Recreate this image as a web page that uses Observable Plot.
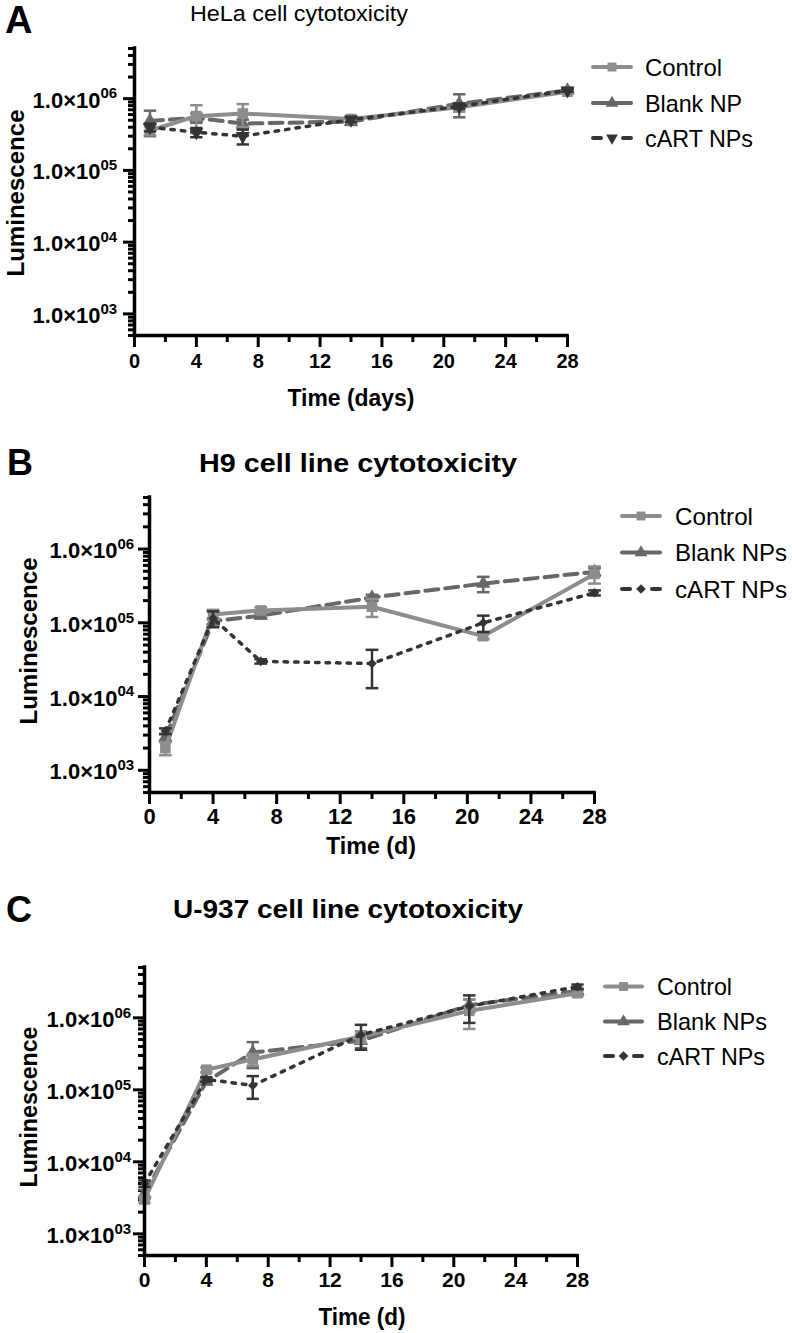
<!DOCTYPE html>
<html><head><meta charset="utf-8">
<script src="https://cdn.jsdelivr.net/npm/d3@7"></script>
<script src="https://cdn.jsdelivr.net/npm/@observablehq/plot@0.6"></script>
<style>
body{margin:0;background:#fff;}
#root{position:relative;width:792px;height:1333px;overflow:hidden;background:#fff;font-family:"Liberation Sans",Arial,Helvetica,sans-serif;}
#root svg{position:absolute;left:0;}
</style></head><body><div id="root"></div>
<script>
// ---------- data ----------
const namesA = ["Control", "Blank NP", "cART NPs"];
const namesBC = ["Control", "Blank NPs", "cART NPs"];

const daysA = [1, 4, 7, 14, 21, 28];
const daysB = [1, 4, 7, 14, 21, 28];
const daysC = [0, 4, 7, 14, 21, 28];

// Panel A – HeLa
const controlA = [3.6e5, 5.7e5, 6.2e5, 5.2e5, 7.6e5, 1.25e6];
const controlAErr = [0.5e5, 2.4e5, 2.2e5, 0.5e5, 1.0e5, 0.8e5];
const blankA = [4.9e5, 5.4e5, 4.5e5, 4.8e5, 8.5e5, 1.3e6];
const blankAErr = [1.9e5, 0.8e5, 0.6e5, 0.5e5, 3.0e5, 0.8e5];
const cartA = [4.0e5, 3.4e5, 3.0e5, 5.1e5, 7.8e5, 1.3e6];
const cartAErr = [0.5e5, 0.5e5, 0.7e5, 0.4e5, 0.6e5, 0.5e5];

// Panel B – H9
const controlB = [2.0e3, 1.3e5, 1.47e5, 1.65e5, 6.6e4, 4.6e5];
const controlBErr = [0.4e3, 0.2e5, 0.15e5, 0.45e5, 0.6e4, 1.2e5];
const blankB = [2.8e3, 1.05e5, 1.25e5, 2.2e5, 3.4e5, 4.9e5];
const blankBErr = [0.3e3, 0.1e5, 0.1e5, 0.2e5, 0.8e5, 0.6e5];
const cartB = [3.4e3, 1.15e5, 3.0e4, 2.8e4, 1.0e5, 2.55e5];
const cartBErr = [0.3e3, 0.28e5, 0.2e4, 1.5e4, 0.25e5, 0.2e5];

// Panel C – U-937
const controlC = [3.0e3, 1.9e5, 2.65e5, 5.5e5, 1.25e6, 2.2e6];
const controlCErr = [0.3e3, 0.15e5, 0.5e5, 1.0e5, 5.5e5, 0.2e6];
const blankC = [3.6e3, 1.3e5, 3.3e5, 4.8e5, 1.5e6, 2.35e6];
const blankCErr = [0.5e3, 0.1e5, 1.3e5, 1.0e5, 0.3e6, 0.2e6];
const cartC = [5.0e3, 1.4e5, 1.15e5, 5.8e5, 1.45e6, 2.7e6];
const cartCErr = [0.5e3, 0.1e5, 0.4e5, 2.2e5, 0.6e6, 0.2e6];

// ticks
const xMajorTicks = [0, 4, 8, 12, 16, 20, 24, 28];
const xMinorTicks = [2, 6, 10, 14, 18, 22, 26];
const yMajorTicks = [1e3, 1e4, 1e5, 1e6];
const yTickMain = ["1.0×10", "1.0×10", "1.0×10", "1.0×10"];
const yTickExp = ["03", "04", "05", "06"];
const yMinorTicks = [5e2, 6e2, 7e2, 8e2, 9e2,
  2e3, 3e3, 4e3, 5e3, 6e3, 7e3, 8e3, 9e3,
  2e4, 3e4, 4e4, 5e4, 6e4, 7e4, 8e4, 9e4,
  2e5, 3e5, 4e5, 5e5, 6e5, 7e5, 8e5, 9e5,
  2e6, 3e6, 4e6, 5e6];

const titles = ["HeLa cell cytotoxicity", "H9 cell line cytotoxicity", "U-937 cell line cytotoxicity"];
const xLabels = ["Time (days)", "Time (d)", "Time (d)"];
const yLabel = "Luminescence";
const letters = ["A", "B", "C"];

// ---------- styles ----------
const triDown = {
  draw(context, size) {
    const y = -Math.sqrt(size / (Math.sqrt(3) * 3));
    context.moveTo(0, -y * 2);
    context.lineTo(-Math.sqrt(3) * y, y);
    context.lineTo(Math.sqrt(3) * y, y);
    context.closePath();
  }
};
const colControl = "#8d8d8d", colBlank = "#676767", colCart = "#343434";
function seriesStyles(cartSymbol, cartR) {
  return [
    {color: colControl, dash: null, width: 4, symbol: "square", r: 6},
    {color: colBlank, dash: "13,7", width: 4, symbol: "triangle", r: 5.3},
    {color: colCart, dash: "3.5,7", width: 3.5, symbol: cartSymbol, r: cartR}
  ];
}

const panels = [
  {top: 0, height: 420, mt: 48, mb: 85, ml: 134, mr: 225, days: daysA, names: namesA,
   vals: [controlA, blankA, cartA], errs: [controlAErr, blankAErr, cartAErr],
   styles: seriesStyles(triDown, 5.2), xPad: 6, xFont: 20, yDx: -34},
  {top: 440, height: 440, mt: 57, mb: 88, ml: 149, mr: 198, days: daysB, names: namesBC,
   vals: [controlB, blankB, cartB], errs: [controlBErr, blankBErr, cartBErr],
   styles: seriesStyles("diamond2", 4.3), xPad: 4, xFont: 22, yDx: -32},
  {top: 880, height: 453, mt: 87, mb: 78, ml: 144, mr: 215, days: daysC, names: namesBC,
   vals: [controlC, blankC, cartC], errs: [controlCErr, blankCErr, cartCErr],
   styles: seriesStyles("diamond2", 4.3), xPad: 5, xFont: 21, yDx: -30}
];

const root = document.getElementById("root");
const cap = 0.4;
const drawOrder = [1, 0, 2];

panels.forEach((p) => {
  const marks = [];
  drawOrder.forEach((si) => {
    const st = p.styles[si];
    const rows = p.days.map((d, i) => ({day: d, v: p.vals[si][i], e: p.errs[si][i]}));
    marks.push(
      Plot.ruleX(rows, {x: "day", y1: (d) => d.v - d.e, y2: (d) => d.v + d.e, stroke: st.color, strokeWidth: 2.5}),
      Plot.link(rows, {x1: (d) => d.day - cap, x2: (d) => d.day + cap, y1: (d) => d.v + d.e, y2: (d) => d.v + d.e, stroke: st.color, strokeWidth: 2.5}),
      Plot.link(rows, {x1: (d) => d.day - cap, x2: (d) => d.day + cap, y1: (d) => d.v - d.e, y2: (d) => d.v - d.e, stroke: st.color, strokeWidth: 2.5}),
      Plot.line(rows, {x: "day", y: "v", stroke: st.color, strokeWidth: st.width, strokeDasharray: st.dash, strokeLinejoin: "round"}),
      Plot.dot(rows, {x: "day", y: "v", symbol: st.symbol, r: st.r, fill: st.color, stroke: "none"})
    );
  });
  const chart = Plot.plot({
    width: 792, height: p.height,
    marginTop: p.mt, marginBottom: p.mb, marginLeft: p.ml, marginRight: p.mr,
    x: {domain: [0, 28]},
    y: {type: "log", domain: [500, 5e6]},
    style: {fontFamily: '"Liberation Sans", Arial, Helvetica, sans-serif', fontWeight: "bold", color: "black", background: "transparent", overflow: "visible"},
    marks: [
      Plot.axisX(xMinorTicks, {tickSize: 7, strokeWidth: 3, tickFormat: () => "", label: null}),
      Plot.axisX(xMajorTicks, {tickSize: 12, strokeWidth: 3, tickPadding: p.xPad, fontSize: p.xFont, fontWeight: "bold", label: null}),
      Plot.axisY(yMinorTicks, {tickSize: 6, strokeWidth: 3, tickFormat: () => "", label: null}),
      Plot.axisY(yMajorTicks, {tickSize: 11, strokeWidth: 3, tickFormat: () => "", label: null}),
      Plot.text(yMajorTicks, {y: (d) => d, text: (d, i) => yTickMain[i], frameAnchor: "left", textAnchor: "end", dx: p.yDx, dy: 2, fontSize: 22, fontWeight: "bold"}),
      Plot.text(yMajorTicks, {y: (d) => d, text: (d, i) => yTickExp[i], frameAnchor: "left", textAnchor: "start", dx: p.yDx, dy: -5, fontSize: 15, fontWeight: "bold"}),
      ...marks,
      Plot.ruleX([0], {strokeWidth: 3.5, strokeLinecap: "square"}),
      Plot.ruleY([500], {strokeWidth: 3.5, strokeLinecap: "square"})
    ]
  });
  chart.style.top = p.top + "px";
  root.appendChild(chart);
});

// ---------- annotations: letters, titles, axis labels, legends ----------
const ov = d3.select(root).append("svg")
  .attr("width", 792).attr("height", 1333)
  .style("top", "0px").style("pointer-events", "none")
  .attr("font-family", '"Liberation Sans", Arial, Helvetica, sans-serif');

function txt(x, y, s, o = {}) {
  const t = ov.append("text").attr("x", x).attr("y", y).text(s)
    .attr("font-size", o.size || 20).attr("font-weight", o.weight || "normal")
    .attr("text-anchor", o.anchor || "start").attr("fill", "#000");
  if (o.len) t.attr("textLength", o.len).attr("lengthAdjust", "spacingAndGlyphs");
  if (o.rotate) t.attr("transform", `rotate(${o.rotate},${x},${y})`);
  return t;
}

const letterPos = [[5, 33, 38], [7, 475, 36], [6, 922, 36]];
letterPos.forEach(([x, y, s], i) => txt(x, y, letters[i], {size: s, weight: "bold"}));

txt(190, 21, titles[0], {size: 21.5, len: 218});
txt(199, 472, titles[1], {size: 26, weight: "bold", len: 318});
txt(173, 918, titles[2], {size: 26, weight: "bold", len: 350});

txt(351, 406, xLabels[0], {size: 23, weight: "bold", anchor: "middle", len: 127});
txt(371, 854, xLabels[1], {size: 23, weight: "bold", anchor: "middle", len: 90});
txt(362, 1325, xLabels[2], {size: 23, weight: "bold", anchor: "middle", len: 87});

txt(24, 193, yLabel, {size: 24, weight: "bold", anchor: "middle", len: 167, rotate: -90});
txt(37, 641, yLabel, {size: 24, weight: "bold", anchor: "middle", len: 167, rotate: -90});
txt(37, 1107, yLabel, {size: 24, weight: "bold", anchor: "middle", len: 161, rotate: -90});

const legends = [
  {x0: 593, x1: 631, tx: 645, ys: [67, 103, 138], widths: [77, 97, 108]},
  {x0: 622, x1: 660, tx: 675, ys: [516, 552.5, 589], widths: [78, 112, 112]},
  {x0: 605, x1: 642, tx: 657, ys: [986.5, 1021.5, 1056], widths: [75, 110, 108]}
];
const legSymbols = [
  [d3.symbolSquare, d3.symbolTriangle, triDown],
  [d3.symbolSquare, d3.symbolTriangle, d3.symbolDiamond2],
  [d3.symbolSquare, d3.symbolTriangle, d3.symbolDiamond2]
];
const legSizes = [80, 70, 60];
legends.forEach((L, pi) => {
  const p = panels[pi];
  p.names.forEach((name, si) => {
    const st = p.styles[si];
    const y = L.ys[si];
    const cx = (L.x0 + L.x1) / 2;
    if (si < 2) {
      ov.append("line").attr("x1", L.x0).attr("x2", L.x1).attr("y1", y).attr("y2", y)
        .attr("stroke", st.color).attr("stroke-width", 4).attr("stroke-linecap", "round");
    } else {
      [[L.x0, L.x0 + 8], [L.x1 - 8, L.x1]].forEach(([a, b]) =>
        ov.append("line").attr("x1", a).attr("x2", b).attr("y1", y).attr("y2", y)
          .attr("stroke", st.color).attr("stroke-width", 4).attr("stroke-linecap", "round"));
    }
    ov.append("path").attr("d", d3.symbol(legSymbols[pi][si], legSizes[si])())
      .attr("transform", `translate(${cx},${y})`).attr("fill", st.color);
    txt(L.tx, y + 8.5, name, {size: 24, len: L.widths[si]});
  });
});
</script></body></html>
